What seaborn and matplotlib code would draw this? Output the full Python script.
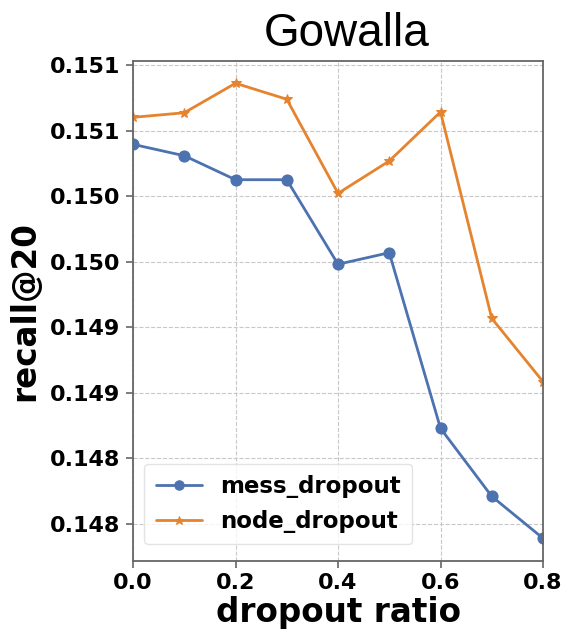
import matplotlib
matplotlib.use("Agg")
import matplotlib.pyplot as plt
import seaborn as sns
import pandas as pd

# ---- data ----
dropout_ratio = [0.0, 0.1, 0.2, 0.3, 0.4, 0.5, 0.6, 0.7, 0.8]
mess_dropout = [0.150897, 0.150810, 0.150627, 0.150627, 0.149982,
                0.150070, 0.148730, 0.148211, 0.147891]
node_dropout = [0.151103, 0.151138, 0.151363, 0.151241, 0.150523,
                0.150770, 0.151144, 0.149569, 0.149086]
series_names = ["mess_dropout", "node_dropout"]
x_ticks = [0.0, 0.2, 0.4, 0.6, 0.8]
x_tick_labels = ["0.0", "0.2", "0.4", "0.6", "0.8"]
y_ticks = [0.1480, 0.1485, 0.1490, 0.1495, 0.1500, 0.1505, 0.1510, 0.1515]
y_tick_labels = ["0.148", "0.148", "0.149", "0.149", "0.150", "0.150", "0.151", "0.151"]

df = pd.DataFrame({
    "ratio": dropout_ratio * 2,
    "recall": mess_dropout + node_dropout,
    "series": [series_names[0]] * len(dropout_ratio) + [series_names[1]] * len(dropout_ratio),
})

sns.set_style("whitegrid", {"grid.linestyle": "--", "grid.color": "#c8c8c8",
                            "axes.edgecolor": "#666666"})
plt.rcParams["font.family"] = ["DejaVu Sans"]
plt.rcParams.update({"text.color": "black", "axes.labelcolor": "black",
                     "xtick.color": "black", "ytick.color": "black"})

fig = plt.figure(figsize=(5.67, 6.3), dpi=100)
ax = fig.add_axes([0.2346, 0.110, 0.7231, 0.7932])

colors = ["#4c72b0", "#e5832f"]
markers = ["o", "*"]
msizes = [8, 7.5]
for name, c, m, ms in zip(series_names, colors, markers, msizes):
    sub = df[df["series"] == name]
    sns.lineplot(data=sub, x="ratio", y="recall", ax=ax, color=c, marker=m,
                 markersize=ms, markeredgecolor=c, linewidth=2, label=name)

ax.set_xlim(0.0, 0.8)
ax.set_ylim(0.14772, 0.151533)
ax.set_xticks(x_ticks)
ax.set_xticklabels(x_tick_labels, fontsize=16, fontweight="bold")
ax.set_yticks(y_ticks)
ax.set_yticklabels(y_tick_labels, fontsize=16, fontweight="bold")
ax.tick_params(axis="both", which="major", length=5, width=1.2, color="#666666",
               labelcolor="black", bottom=True, left=True, pad=4)
for s in ax.spines.values():
    s.set_linewidth(1.3)
    s.set_color("#666666")

ax.set_xlabel("dropout ratio", fontsize=23.5, fontweight="bold", labelpad=2, color="black")
ax.set_ylabel("recall@20", fontsize=23.5, fontweight="bold", labelpad=6, color="black")
ax.set_title("Gowalla", fontsize=33, family=["Liberation Sans"], pad=11, color="black", x=0.522)

leg = ax.legend(loc="lower left", prop={"weight": "bold", "size": 16.5},
                frameon=True, borderpad=0.5, handlelength=2.0, markerscale=0.85,
                bbox_to_anchor=(0.0, 0.01))
leg.get_frame().set_edgecolor("#dddddd")
for t in leg.get_texts():
    t.set_color("black")

fig.savefig("out.png", dpi=100)
